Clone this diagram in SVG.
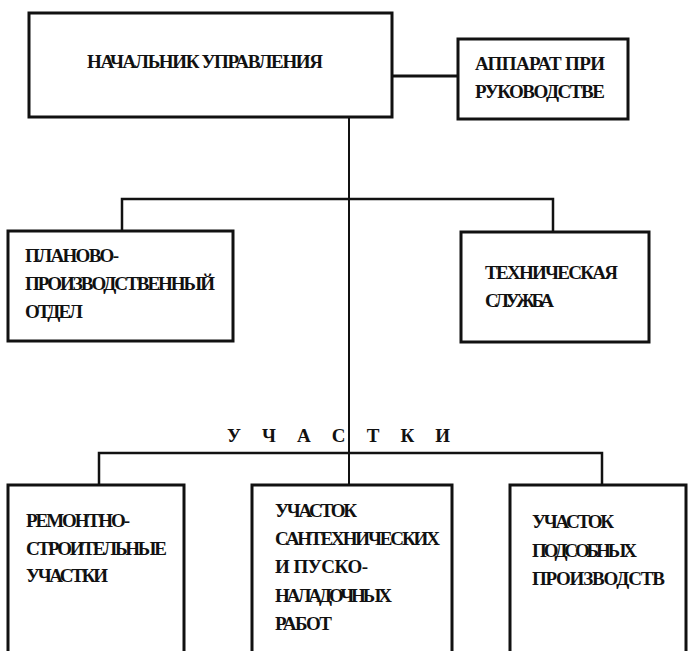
<svg xmlns="http://www.w3.org/2000/svg" width="688" height="651" viewBox="0 0 688 651">
<style>
.box{fill:#fff;stroke:#111;stroke-width:3}
.ln{fill:none;stroke:#111;stroke-width:2.5}
.t{font-family:"Liberation Serif","DejaVu Serif",serif;font-weight:bold;font-size:19px;fill:#111}
</style>
<rect width="688" height="651" fill="#fff"/>
<g id="connectors">
<line class="ln" x1="392" y1="76" x2="457" y2="76" style="stroke-width:3"/>
<line class="ln" x1="349" y1="117" x2="349" y2="485" style="stroke-width:2"/>
<polyline class="ln" points="122,231 122,199 553,199 553,232"/>
<polyline class="ln" points="99,485 99,453 602,453 602,485"/>
</g>
<g id="n_head">
<rect class="box" x="29" y="13" width="363" height="104"/>
<text class="t" x="87" y="68" textLength="236" lengthAdjust="spacing">НАЧАЛЬНИК УПРАВЛЕНИЯ</text>
</g>
<g id="n_apparat">
<rect class="box" x="458" y="39" width="170" height="80"/>
<text class="t" x="475" y="70" textLength="130" lengthAdjust="spacing">АППАРАТ ПРИ</text>
<text class="t" x="475" y="98" textLength="130" lengthAdjust="spacing">РУКОВОДСТВЕ</text>
</g>
<g id="n_plan">
<rect class="box" x="8" y="231" width="225" height="110"/>
<text class="t" x="25" y="262" textLength="94" lengthAdjust="spacing">ПЛАНОВО-</text>
<text class="t" x="25" y="290" textLength="190" lengthAdjust="spacing">ПРОИЗВОДСТВЕННЫЙ</text>
<text class="t" x="25" y="318" textLength="58" lengthAdjust="spacing">ОТДЕЛ</text>
</g>
<g id="n_tech">
<rect class="box" x="461" y="232" width="188" height="110"/>
<text class="t" x="485" y="279" textLength="133" lengthAdjust="spacing">ТЕХНИЧЕСКАЯ</text>
<text class="t" x="485" y="307" textLength="69" lengthAdjust="spacing">СЛУЖБА</text>
</g>
<g id="label_uchastki">
<text class="t" x="227" y="442" textLength="223" lengthAdjust="spacing">У Ч А С Т К И</text>
</g>
<g id="n_remont">
<rect class="box" x="8" y="485" width="176" height="180"/>
<text class="t" x="26" y="527" textLength="104" lengthAdjust="spacing">РЕМОНТНО-</text>
<text class="t" x="26" y="555" textLength="141" lengthAdjust="spacing">СТРОИТЕЛЬНЫЕ</text>
<text class="t" x="26" y="582" textLength="82" lengthAdjust="spacing">УЧАСТКИ</text>
</g>
<g id="n_santeh">
<rect class="box" x="252" y="485" width="200" height="180"/>
<text class="t" x="275" y="517" textLength="82" lengthAdjust="spacing">УЧАСТОК</text>
<text class="t" x="275" y="545" textLength="165" lengthAdjust="spacing">САНТЕХНИЧЕСКИХ</text>
<text class="t" x="275" y="573" textLength="93" lengthAdjust="spacing">И ПУСКО-</text>
<text class="t" x="275" y="602" textLength="117" lengthAdjust="spacing">НАЛАДОЧНЫХ</text>
<text class="t" x="275" y="630" textLength="57" lengthAdjust="spacing">РАБОТ</text>
</g>
<g id="n_podsob">
<rect class="box" x="510" y="485" width="176" height="180"/>
<text class="t" x="532" y="528" textLength="82" lengthAdjust="spacing">УЧАСТОК</text>
<text class="t" x="532" y="557" textLength="105" lengthAdjust="spacing">ПОДСОБНЫХ</text>
<text class="t" x="532" y="585" textLength="133" lengthAdjust="spacing">ПРОИЗВОДСТВ</text>
</g>
</svg>
